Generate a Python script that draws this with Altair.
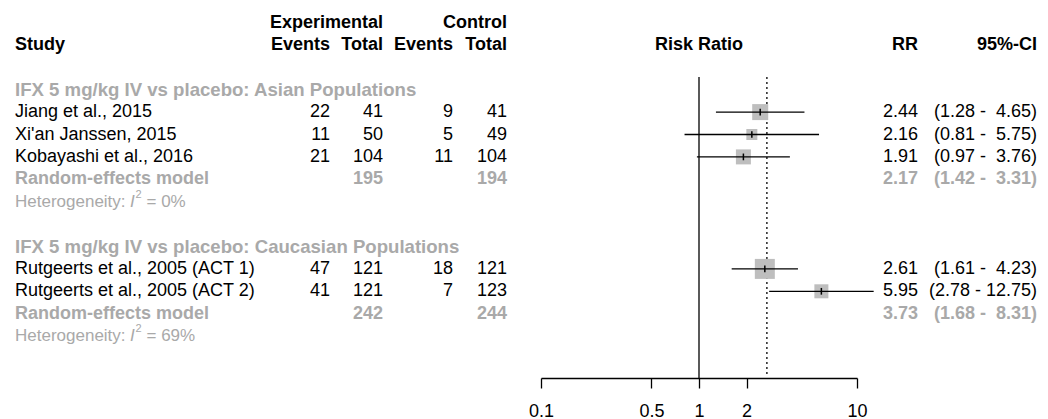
import altair as alt
import pandas as pd

# ---------------- data ----------------
studies = ["Jiang et al., 2015", "Xi'an Janssen, 2015", "Kobayashi et al., 2016",
           "Rutgeerts et al., 2005 (ACT 1)", "Rutgeerts et al., 2005 (ACT 2)"]
study_rows = [4, 5, 6, 11, 12]
exp_events = [22, 11, 21, 47, 41]
exp_total = [41, 50, 104, 121, 121]
ctrl_events = [9, 5, 11, 18, 7]
ctrl_total = [41, 49, 104, 121, 123]
rr = [2.44, 2.16, 1.91, 2.61, 5.95]
rr_lo = [1.28, 0.81, 0.97, 1.61, 2.78]
rr_hi = [4.65, 5.75, 3.76, 4.23, 12.75]
weight = [21.4, 10.1, 18.8, 33.4, 16.4]

subgroups = ["IFX 5 mg/kg IV vs placebo: Asian Populations",
             "IFX 5 mg/kg IV vs placebo: Caucasian Populations"]
subgroup_rows = [3, 10]
re_label = "Random-effects model"
re_rows = [7, 13]
re_exp_total = [195, 242]
re_ctrl_total = [194, 244]
re_rr = [2.17, 3.73]
re_lo = [1.42, 1.68]
re_hi = [3.31, 8.31]
het_rows = [8, 14]
het_i2 = ["0%", "69%"]
overall_rr = 2.69

header_top = ["Experimental", "Control"]
header_cols = ["Study", "Events", "Total", "Events", "Total", "Risk Ratio", "RR", "95%-CI"]
axis_ticks = [0.1, 0.5, 1, 2, 10]

# ---------------- helpers ----------------
FONT = "Liberation Sans"
GRAY = "#A9A9A9"
SQ = "#BEBEBE"


def ci_text(lo, hi):
    pad = "\u00a0" if hi < 10 else ""
    return f"({lo:.2f} - {pad}{hi:.2f})"


sdf = pd.DataFrame({
    "row": study_rows, "study": studies,
    "ee": [str(v) for v in exp_events], "et": [str(v) for v in exp_total],
    "ce": [str(v) for v in ctrl_events], "ct": [str(v) for v in ctrl_total],
    "rr": rr, "lo": rr_lo, "hi": rr_hi, "w": weight,
    "rrt": [f"{v:.2f}" for v in rr],
    "cit": [ci_text(a, b) for a, b in zip(rr_lo, rr_hi)],
})

redf = pd.DataFrame({
    "row": re_rows, "label": [re_label] * len(re_rows),
    "et": [str(v) for v in re_exp_total], "ct": [str(v) for v in re_ctrl_total],
    "rrt": [f"{v:.2f}" for v in re_rr],
    "cit": [ci_text(a, b) for a, b in zip(re_lo, re_hi)],
})

# diamond outline points from the summary CIs
dia = []
for i, (r, e, lo, hi) in enumerate(zip(re_rows, re_rr, re_lo, re_hi)):
    dia += [
        {"g": i, "o": 0, "x": lo, "y": r, "y2": r},
        {"g": i, "o": 1, "x": e, "y": r - 0.27, "y2": r + 0.27},
        {"g": i, "o": 2, "x": hi, "y": r, "y2": r},
    ]
ddf = pd.DataFrame(dia)

subdf = pd.DataFrame({"row": subgroup_rows, "label": subgroups})
hetdf = pd.DataFrame({"row": het_rows, "i2": ["= " + v for v in het_i2]})

yscale = alt.Scale(domain=[0, 14], range=[14.5, 328.1])
xscale = alt.Scale(type="log", domain=[0.1, 10], range=[533, 849])

Y = alt.Y("row:Q", scale=yscale, axis=None)

# column positions (right edges unless noted)
COLX = {"study": 7, "ee": 322, "et": 375, "ce": 445, "ct": 499, "rrt": 910, "cit": 1029}


def txt(df, field, col, color="black", bold=False, size=18, align="right"):
    return alt.Chart(df).mark_text(
        font=FONT, fontSize=size, fontWeight="bold" if bold else "normal",
        color=color, align=align, baseline="middle"
    ).encode(x=alt.value(COLX[col]), y=Y, text=f"{field}:N")


layers = []

# reference lines
layers.append(alt.Chart(pd.DataFrame({"v": [1]})).mark_rule(color="black", strokeWidth=1.3).encode(
    x=alt.X("v:Q", scale=xscale,
            axis=alt.Axis(values=axis_ticks, format="~g", title=None, grid=False,
                          domainColor="black", domainWidth=1.3, tickColor="black",
                          tickWidth=1.3, tickSize=10, labelFont=FONT, labelFontSize=18,
                          labelColor="black", labelPadding=14, labelFlush=False)),
    y=alt.value(69), y2=alt.value(370)))
layers.append(alt.Chart(pd.DataFrame({"v": [overall_rr]})).mark_rule(
    color="black", strokeWidth=1.3, strokeDash=[2, 3]).encode(
    x="v:Q", y=alt.value(69), y2=alt.value(366)))

# study squares, CI lines, centre ticks
layers.append(alt.Chart(sdf).mark_square(color=SQ, opacity=1).encode(
    x="rr:Q", y=Y,
    size=alt.Size("w:Q", scale=alt.Scale(domain=[0, 33.4], range=[0, 400]), legend=None)))
layers.append(alt.Chart(sdf).mark_rule(color="black", strokeWidth=1.3).encode(
    x="lo:Q", x2="hi:Q", y=Y))
layers.append(alt.Chart(sdf).transform_calculate(
    ya="datum.row - 0.15", yb="datum.row + 0.15").mark_rule(
    color="black", strokeWidth=1.5).encode(
    x="rr:Q", y=alt.Y("ya:Q", scale=yscale, axis=None), y2="yb:Q"))

# diamonds
layers.append(alt.Chart(ddf).mark_area(color="black", orient="vertical").encode(
    x="x:Q", y=alt.Y("y:Q", scale=yscale, axis=None), y2="y2:Q",
    detail="g:N", order="o:Q"))

# header texts
for lab, col in zip(header_top, ["et", "ct"]):
    layers.append(alt.Chart(pd.DataFrame({"row": [0], "t": [lab]})).mark_text(
        font=FONT, fontSize=18, fontWeight="bold", align="right", baseline="middle").encode(
        x=alt.value(COLX[col]), y=Y, text="t:N"))
for lab, col in zip(header_cols, ["study", "ee", "et", "ce", "ct", "rr", "rrt", "cit"]):
    d = pd.DataFrame({"row": [1], "t": [lab]})
    if col == "study":
        layers.append(alt.Chart(d).mark_text(font=FONT, fontSize=18, fontWeight="bold",
                                             align="left", baseline="middle").encode(
            x=alt.value(COLX[col]), y=Y, text="t:N"))
    elif col == "rr":
        layers.append(alt.Chart(d).mark_text(font=FONT, fontSize=18, fontWeight="bold",
                                             align="center", baseline="middle").encode(
            x=alt.datum(1), y=Y, text="t:N"))
    else:
        layers.append(alt.Chart(d).mark_text(font=FONT, fontSize=18, fontWeight="bold",
                                             align="right", baseline="middle").encode(
            x=alt.value(COLX[col]), y=Y, text="t:N"))

# subgroup headers
layers.append(txt(subdf, "label", "study", color=GRAY, bold=True, size=18.6, align="left"))

# study rows
layers.append(txt(sdf, "study", "study", align="left"))
for f in ["ee", "et", "ce", "ct", "rrt", "cit"]:
    layers.append(txt(sdf, f, f))

# random-effects rows
layers.append(txt(redf, "label", "study", color=GRAY, bold=True, align="left"))
for f in ["et", "ct", "rrt", "cit"]:
    layers.append(txt(redf, f, f, color=GRAY, bold=True))

# heterogeneity rows
hbase = dict(font=FONT, color=GRAY, baseline="middle", align="left")
layers.append(alt.Chart(hetdf).transform_calculate(t="'Heterogeneity:'").mark_text(
    fontSize=17, **hbase).encode(x=alt.value(7), y=Y, text="t:N"))
layers.append(alt.Chart(hetdf).transform_calculate(t="'I'").mark_text(
    fontSize=17, fontStyle="italic", **hbase).encode(x=alt.value(122), y=Y, text="t:N"))
layers.append(alt.Chart(hetdf).transform_calculate(t="'2'").mark_text(
    fontSize=11, dy=-7, **hbase).encode(x=alt.value(127.5), y=Y, text="t:N"))
layers.append(alt.Chart(hetdf).mark_text(fontSize=17, **hbase).encode(
    x=alt.value(138.5), y=Y, text="i2:N"))

chart = alt.layer(*layers).properties(
    width=1032, height=370,
    autosize=alt.AutoSizeParams(type="none"),
    padding={"left": 0, "top": 0, "right": 0, "bottom": 41},
).configure(background="white").configure_view(strokeWidth=0, stroke=None)

chart.save("out.html", embed_options={"renderer": "svg", "actions": False})
